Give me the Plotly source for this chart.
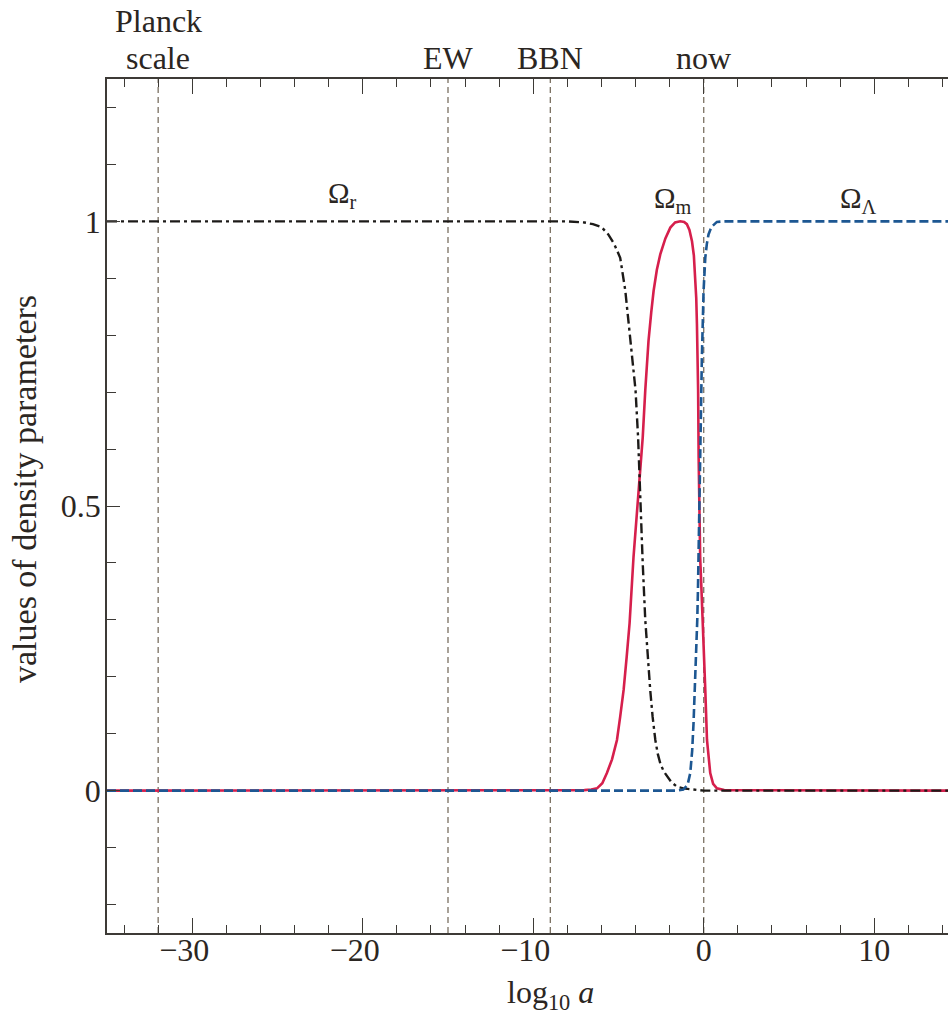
import plotly.graph_objects as go

# Density parameters versus scale factor (log10 a)
x_rad = [-35, -8, -7, -6.5, -6, -5.6, -5.25, -4.9, -4.6, -4.4, -4.2, -4.0, -3.85, -3.72,
         -3.58, -3.43, -3.28, -3.14, -3.0, -2.84, -2.7, -2.55, -2.35, -2.16, -1.9, -1.57,
         -1.2, -0.6, 0.0, 14.5]
omega_rad = [1, 1, 0.998, 0.995, 0.99, 0.977, 0.96, 0.936, 0.878, 0.819, 0.761, 0.703,
             0.62, 0.50, 0.40, 0.30, 0.23, 0.177, 0.13, 0.089, 0.065, 0.048, 0.034, 0.025,
             0.015, 0.007, 0.004, 0.002, 0.0, 0.0]

x_mat = [-35, -7.6, -7.0, -6.6, -6.26, -5.95, -5.68, -5.38, -5.09, -4.9, -4.70, -4.52,
         -4.35, -4.12, -3.92, -3.75, -3.58, -3.43, -3.24, -3.08, -2.94, -2.75, -2.55,
         -2.25, -1.96, -1.68, -1.38, -1.15, -0.99, -0.84, -0.69, -0.58, -0.50, -0.44,
         -0.40, -0.36, -0.33, -0.30, -0.26, -0.21, -0.13, -0.05, 0.02, 0.09, 0.19, 0.28,
         0.38, 0.55, 0.77, 1.2, 14.5]
omega_mat = [0, 0, 0.001, 0.002, 0.004, 0.013, 0.031, 0.055, 0.089, 0.13, 0.177, 0.235,
             0.294, 0.41, 0.49, 0.555, 0.62, 0.703, 0.79, 0.84, 0.878, 0.915, 0.942,
             0.97, 0.989, 0.998, 1.0, 0.999, 0.995, 0.985, 0.965, 0.94, 0.907, 0.865,
             0.82, 0.76, 0.703, 0.586, 0.5, 0.41, 0.35, 0.294, 0.235, 0.177, 0.089, 0.055,
             0.031, 0.012, 0.004, 0.001, 0]

x_lam = [-35, -1.6, -1.2, -0.95, -0.79, -0.68, -0.60, -0.52, -0.44, -0.38, -0.34, -0.30,
         -0.27, -0.23, -0.17, -0.11, -0.01, 0.09, 0.18, 0.28, 0.45, 0.77, 1.2, 14.5]
omega_lam = [0, 0, 0.002, 0.01, 0.031, 0.07, 0.118, 0.18, 0.235, 0.30, 0.352, 0.43,
             0.5, 0.56, 0.64, 0.76, 0.878, 0.936, 0.96, 0.977, 0.99, 0.999, 1.0, 1.0]

# Epoch markers
epoch_x = [-32, -15, -9, 0]
epoch_top = ["Planck", "", "", ""]
epoch_labels = ["scale", "EW", "BBN", "now"]

# Curve labels (position along x, lift above the Ω = 1 line in pixels)
curve_label_x = [-21.2, -1.8, 9.05]
curve_label_lift = [6, 1, 1]
curve_labels = ["Ω<sub>r</sub>", "Ω<sub>m</sub>", "Ω<sub>Λ</sub>"]

x_ticks = [-30, -20, -10, 0, 10]
# an en space balances the minus sign so the digits sit centred on the tick
x_tick_text = ["−30\u2002", "−20\u2002", "−10\u2002", "0", "10"]
y_ticks = [0, 0.5, 1]
y_tick_text = ["0", "0.5", "1"]

SERIF = "Liberation Serif"
INK = "#2b2622"
FRAME = "#3d3a36"

W, H = 948, 1021
ML, MR, MT, MB = 107, 0, 79, 88
PX_PER_UNIT = 17.05
x_min = -35
x_max = x_min + (W - ML - MR) / PX_PER_UNIT


def paper_y(py):
    """Convert a pixel row of the page into paper coordinates."""
    return 1 - (py - MT) / (H - MT - MB)


def paper_x(px):
    return (px - ML) / (W - ML - MR)


fig = go.Figure()

fig.add_trace(go.Scatter(x=x_mat, y=omega_mat, mode="lines",
                         line=dict(color="#d61f4c", width=2.6), hoverinfo="skip"))
fig.add_trace(go.Scatter(x=x_rad, y=omega_rad, mode="lines",
                         line=dict(color="#1c1a18", width=2.4, dash="10px,4px,3px,4px"),
                         hoverinfo="skip"))
fig.add_trace(go.Scatter(x=x_lam, y=omega_lam, mode="lines",
                         line=dict(color="#1d5792", width=2.6, dash="9px,4px"),
                         hoverinfo="skip"))

for ex in epoch_x:
    fig.add_shape(type="line", xref="x", yref="paper", x0=ex, x1=ex, y0=0, y1=1,
                  line=dict(color="#6f6455", width=1.2, dash="6px,4px"), layer="below")

for ex, top, lab in zip(epoch_x, epoch_top, epoch_labels):
    fig.add_annotation(x=ex, xref="x", y=paper_y(70), yref="paper", yanchor="bottom",
                       xanchor="center", yshift=-8, text=lab, showarrow=False,
                       font=dict(family=SERIF, size=32, color=INK))
    if top:
        fig.add_annotation(x=ex, xref="x", y=paper_y(33.5), yref="paper", yanchor="bottom",
                           xanchor="center", yshift=-8, text=top, showarrow=False,
                           font=dict(family=SERIF, size=32, color=INK))

for cx, lift, cl in zip(curve_label_x, curve_label_lift, curve_labels):
    fig.add_annotation(x=cx, xref="x", y=1.0, yref="y", yanchor="bottom", yshift=lift,
                       xanchor="center", text=cl, showarrow=False,
                       font=dict(family=SERIF, size=29, color=INK))

# Axis titles
fig.add_annotation(x=paper_x(24), xref="paper", y=paper_y(489), yref="paper",
                   xanchor="center", yanchor="middle",
                   text="values of density parameters", textangle=-90, showarrow=False,
                   font=dict(family=SERIF, size=34, color=INK))
fig.add_annotation(x=-9, xref="x", y=paper_y(1009), yref="paper", yanchor="bottom",
                   xanchor="center", yshift=-8, text="log<sub>10</sub> <i>a</i>",
                   showarrow=False, font=dict(family=SERIF, size=32, color=INK))

fig.update_xaxes(range=[x_min, x_max], tickvals=x_ticks, ticktext=x_tick_text,
                 ticks="inside", ticklen=15,
                 tickwidth=1.4, tickcolor=FRAME, showline=True, linewidth=1.6,
                 linecolor=FRAME, mirror="allticks", showgrid=False, zeroline=False,
                 ticklabelstandoff=-12,
                 tickfont=dict(family=SERIF, size=32, color=INK),
                 minor=dict(dtick=2, tick0=0, ticks="inside", ticklen=8, tickwidth=1.3,
                            tickcolor=FRAME, showgrid=False))
fig.update_yaxes(range=[-0.25, 1.25], tickvals=y_ticks, ticktext=y_tick_text,
                 ticks="inside", ticklen=13, tickwidth=1.4, tickcolor=FRAME,
                 showline=True, linewidth=1.6, linecolor=FRAME, mirror=False,
                 showgrid=False, zeroline=False, ticklabelstandoff=-2,
                 tickfont=dict(family=SERIF, size=32, color=INK),
                 minor=dict(dtick=0.1, tick0=0, ticks="inside", ticklen=9, tickwidth=1.3,
                            tickcolor=FRAME, showgrid=False))

fig.update_layout(width=W, height=H, margin=dict(l=ML, r=MR, t=MT, b=MB, pad=0),
                  paper_bgcolor="white", plot_bgcolor="white", showlegend=False)

fig.write_html("out.html")
